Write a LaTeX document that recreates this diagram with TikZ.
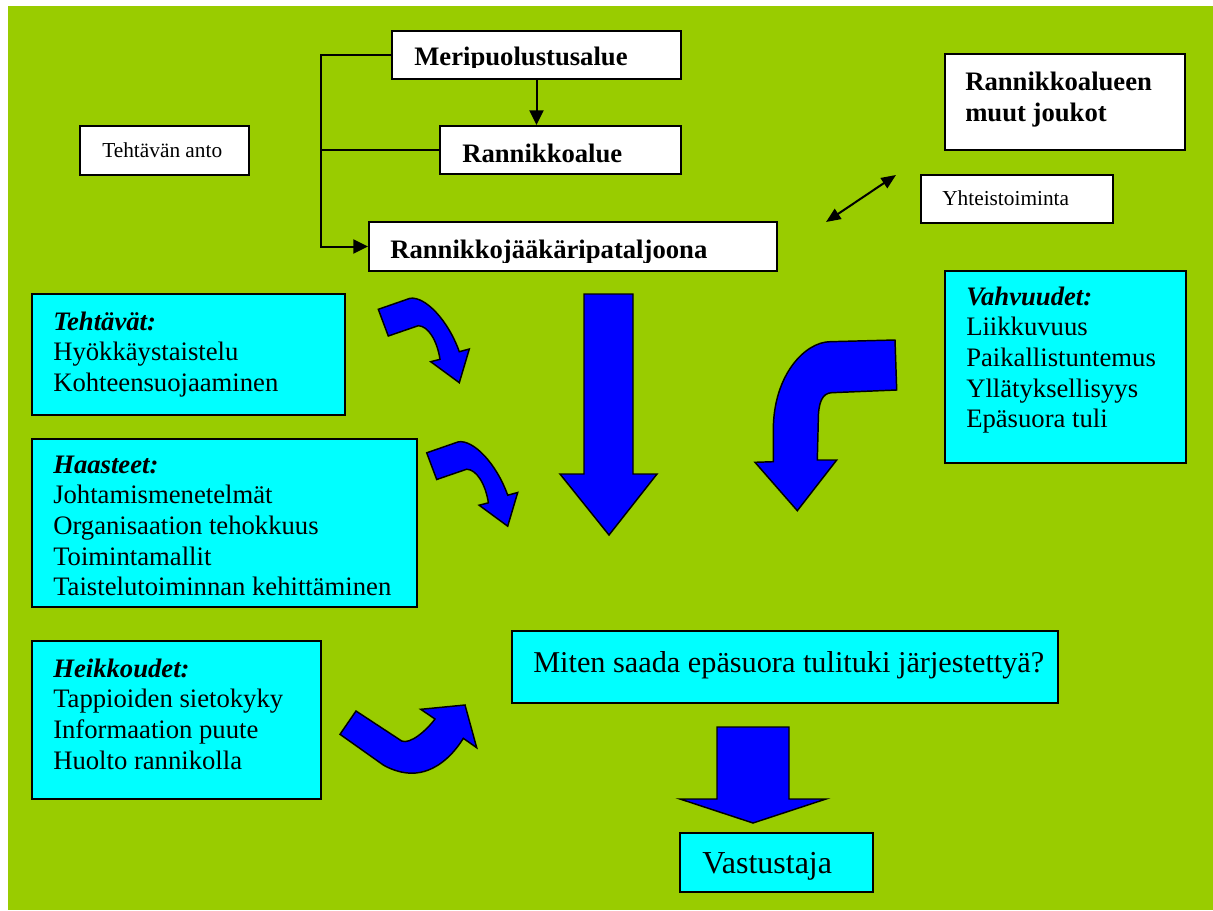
\documentclass[tikz,border=0pt]{standalone}
\usepackage{fontspec}
\setmainfont{Liberation Serif}
\usetikzlibrary{arrows.meta,fit}
\definecolor{bggreen}{RGB}{153,204,0}
\definecolor{boxcyan}{RGB}{0,255,255}
\definecolor{arrowblue}{RGB}{0,0,255}
% invisible rule that fixes the height of a list's first line
\newcommand{\firstline}{\rule{0pt}{20pt}}

\begin{document}
\begin{tikzpicture}[x=0.75pt,y=-0.75pt,
  whitebox/.style={draw=black,fill=white,line width=1.6pt,inner sep=0pt},
  cyanbox/.style={draw=black,fill=boxcyan,line width=1.6pt,inner sep=0pt},
  small16/.style={anchor=base west,inner sep=0pt,font=\fontsize{16}{18}\selectfont},
  head20/.style={anchor=base west,inner sep=0pt,font=\bfseries\fontsize{20}{23}\selectfont},
  list20/.style={anchor=north west,inner sep=0pt,align=left,font=\fontsize{20}{23}\selectfont},
  big24/.style={anchor=base west,inner sep=0pt,font=\fontsize{24}{28}\selectfont},
  link/.style={draw=black,line width=1.5pt},
  linkarrow/.style={-{Triangle[length=11pt,width=10.5pt]}},
  blockarrow/.style={fill=arrowblue,draw=black,line width=1.1pt,line join=miter}]

% page and background
\useasboundingbox (0,0) rectangle (1213,910);
\fill[white] (0,0) rectangle (1213,910);
\fill[bggreen] (8,6) rectangle (1213,910);

% command chain
\node[whitebox, fit={(392,31) (681,79)}] (meri) {};
\node[whitebox, fit={(440,126) (681,174)}] (ranko) {};
\node[whitebox, fit={(369,222) (777,271)}] (ranja) {};
\begin{scope}
  \clip (392,31) rectangle (681,67);
  \node[head20] (meri-t) at (414,65) {Meripuolustusalue};
\end{scope}
\node[head20] (ranko-t) at (462,162) {Rannikkoalue};
\begin{scope}
  \clip (369,222) rectangle (777,262);
  \node[head20] (ranja-t) at (390,258) {Rannikkojääkäripataljoona};
\end{scope}

\coordinate (bus) at (321,55);
\draw[link, linkarrow] (meri.west) -- (bus) |- (ranja.west);
\draw[link] (ranko.west) -- (ranko.west -| bus);
\draw[link, linkarrow] (meri.south) -- (meri.south |- ranko.north);

\node[whitebox, fit={(80,126) (249,175)}] (anto) {};
\node[small16] (anto-t) at (102,157) {Tehtävän anto};

% other units and cooperation
\node[whitebox, fit={(945,54) (1185,150)}] (muut) {};
\node[list20, font=\bfseries\fontsize{20}{23.25}\selectfont] (muut-t) at (965,63.3)
  {\firstline Rannikkoalueen\\muut joukot};
\node[whitebox, fit={(921,175) (1113,223)}] (yht) {};
\node[small16] (yht-t) at (942,205) {Yhteistoiminta};
\coordinate (ya) at (826,222);
\coordinate (yb) at (896,175);
\draw[link, {Triangle[length=11pt,width=9pt]}-{Triangle[length=11pt,width=9pt]}] (ya) -- (yb);

% factor boxes
\node[cyanbox, fit={(32,294) (345,415)}] (teht) {};
\node[list20] (teht-t) at (53,303.3)
  {\firstline\textbf{\textit{Tehtävät:}}\\Hyökkäystaistelu\\Kohteensuojaaminen};

\node[cyanbox, fit={(32,439) (417,607)}] (haas) {};
\node[list20] (haas-t) at (53,446.3)
  {\firstline\textbf{\textit{Haasteet:}}\\Johtamismenetelmät\\Organisaation tehokkuus\\Toimintamallit\\Taistelutoiminnan kehittäminen};

\node[cyanbox, fit={(32,641) (321,799)}] (heik) {};
\node[list20] (heik-t) at (53,650.3)
  {\firstline\textbf{\textit{Heikkoudet:}}\\Tappioiden sietokyky\\Informaation puute\\Huolto rannikolla};

\node[cyanbox, fit={(945,271) (1186,463)}] (vahv) {};
\node[list20] (vahv-t) at (966,278.3)
  {\firstline\textbf{\textit{Vahvuudet:}}\\Liikkuvuus\\Paikallistuntemus\\Yllätyksellisyys\\Epäsuora tuli};

% question and opponent
\node[cyanbox, fit={(512,631) (1058,703)}] (miten) {};
\node[big24, font=\fontsize{22.7}{26}\selectfont] (miten-t) at (533,672) {Miten saada epäsuora tulituki järjestettyä?};
\node[cyanbox, fit={(680,833) (873,892)}] (vast) {};
\node[big24] (vast-t) at (702,873) {Vastustaja};

% straight block arrows
\draw[blockarrow] (584,294) -- (633,294) -- (633,474) -- (657,474) -- (609,535)
  -- (560,474) -- (584,474) -- cycle;
\draw[blockarrow] (717,727) -- (789,727) -- (789,799) -- (826,799) -- (753,823)
  -- (680,799) -- (717,799) -- cycle;

% curved block arrows from the left boxes
\foreach \dx/\dy in {0/0, 48.4/143.5}{
  \draw[blockarrow, shift={(\dx,\dy)}]
    (378.3,309.3) -- (410,298.3) .. controls (425,296) and (448,320) .. (459.3,351.7)
    -- (469.3,349) -- (459.3,382.7) -- (430.7,361.7) -- (440,359.3)
    .. controls (437,340) and (428,326) .. (418.3,325.7) -- (388.3,336) -- cycle;
}

% bent block arrow from the strengths box
\draw[blockarrow]
  (895,340) -- (830,341.7) .. controls (805,342) and (773.3,375) .. (773.3,430)
  -- (773.3,461.7) -- (755,462.3) -- (797.3,510.7) -- (836.7,460) -- (817.3,460)
  -- (818.3,420) .. controls (818.3,403) and (822,393) .. (831.7,392.7)
  -- (896.7,390) -- cycle;

% rising block arrow from the weaknesses box
\draw[blockarrow]
  (340,734.3) -- (356,711) -- (401.7,741) .. controls (410,744.5) and (426,731) .. (435,719)
  -- (420.7,709.3) -- (465,705) -- (476.7,747.7) -- (463.3,738.3)
  .. controls (450,760) and (430,775) .. (408,773) .. controls (400,772.5) and (390,769) .. (383.3,765)
  -- cycle;

\end{tikzpicture}
\end{document}
